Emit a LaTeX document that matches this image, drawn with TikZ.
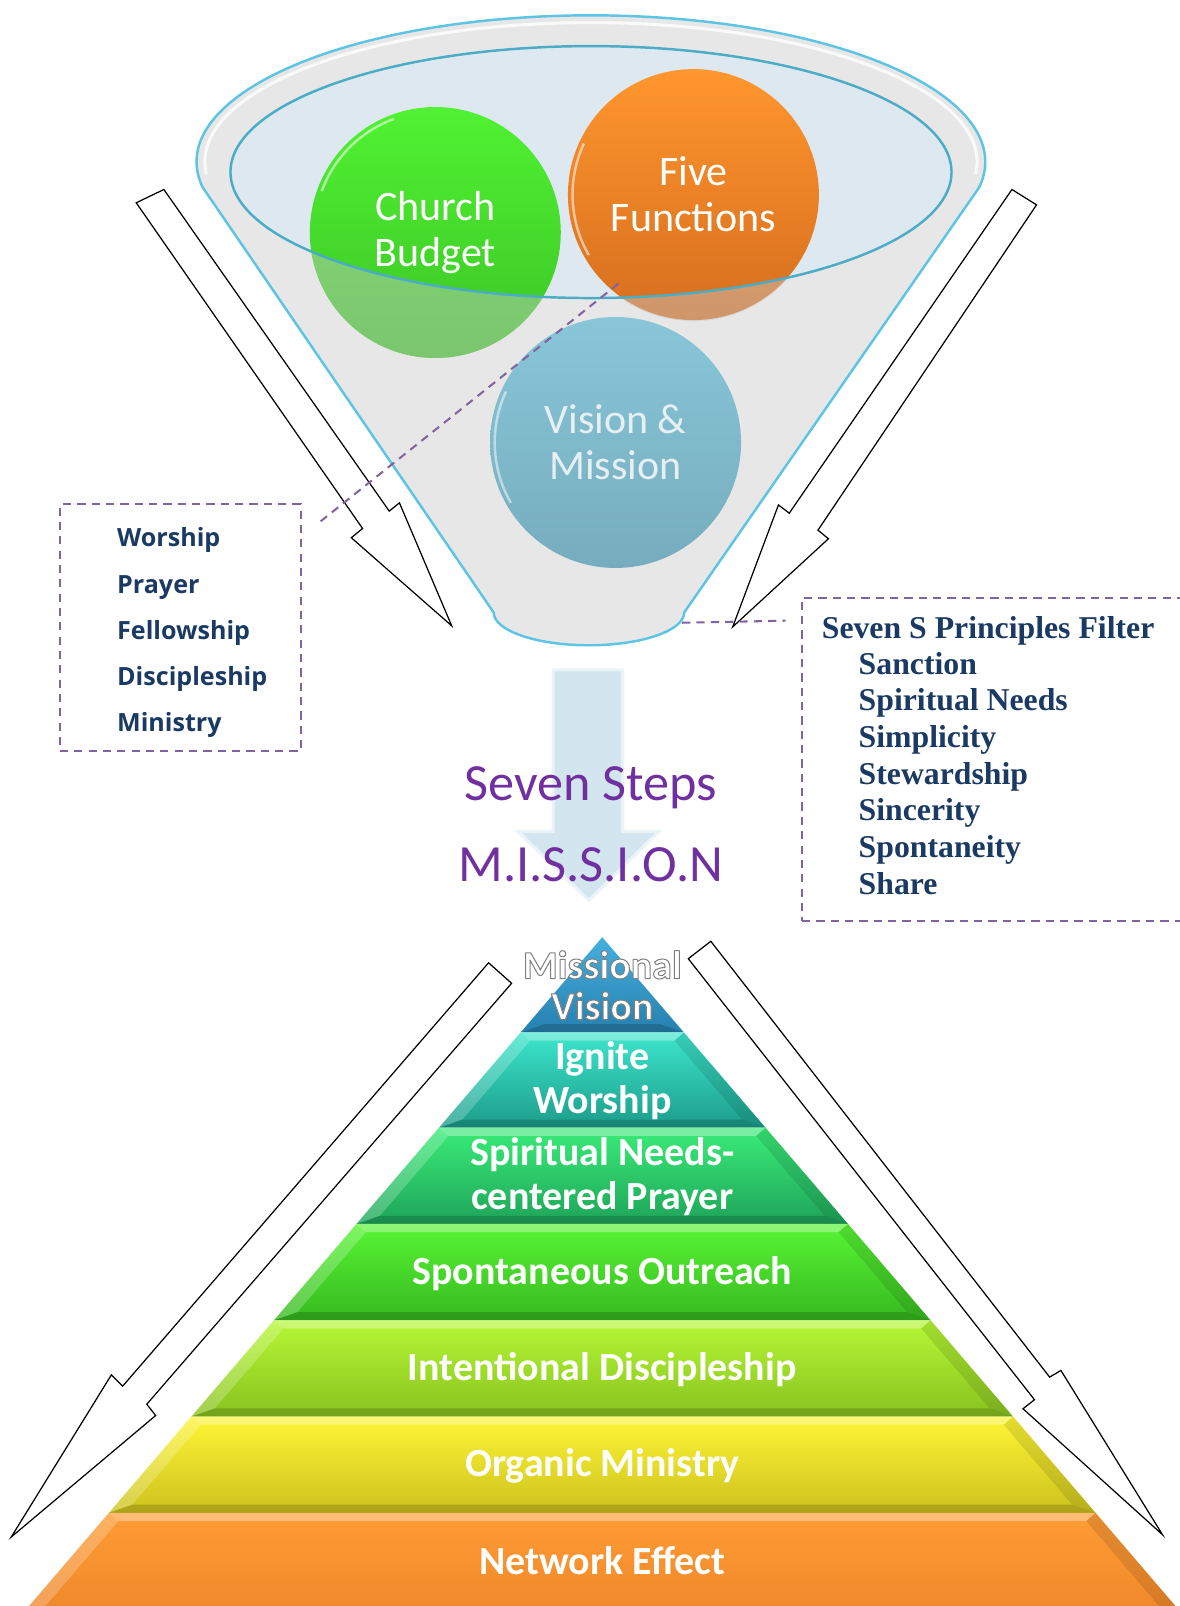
\documentclass[tikz,border=0pt]{standalone}
\usepackage{fontspec}
\setmainfont{Carlito}
\newfontfamily\osans{Open Sans}
\newfontfamily\tnr{Liberation Serif}
\usetikzlibrary{calc}
\definecolor{cyanrim}{HTML}{5EC4E4}
\definecolor{tealline}{HTML}{4BACC6}
\definecolor{funnelgray}{HTML}{E7E7E7}
\definecolor{glass}{HTML}{DDE8F0}
\definecolor{fadegray}{HTML}{C8C8C8}
\definecolor{boxpurple}{HTML}{8064A2}
\definecolor{navy}{HTML}{1B3A63}
\definecolor{stepspurple}{HTML}{7030A0}
\definecolor{gvT}{HTML}{50F232}\definecolor{gvB}{HTML}{3CC426}
\definecolor{ovT}{HTML}{FF962E}\definecolor{ovB}{HTML}{D66E1E}
\definecolor{vmT}{HTML}{88C6D8}\definecolor{vmB}{HTML}{76ADBE}
\definecolor{vmtext}{HTML}{E6EFF3}
\definecolor{arrowblue}{HTML}{D3E5EE}
\definecolor{arrowedge}{HTML}{EAF3F7}
\definecolor{mvT}{HTML}{45B0DE}\definecolor{mvB}{HTML}{2680AE}
\definecolor{iwT}{HTML}{3DE6CC}\definecolor{iwB}{HTML}{1C9C8A}
\definecolor{spT}{HTML}{3AEC78}\definecolor{spB}{HTML}{1EA459}
\definecolor{soT}{HTML}{58F535}\definecolor{soB}{HTML}{36B91F}
\definecolor{idT}{HTML}{B6F735}\definecolor{idB}{HTML}{88C21F}
\definecolor{omT}{HTML}{FFF535}\definecolor{omB}{HTML}{CCC21E}
\definecolor{neT}{HTML}{FF9C35}\definecolor{neB}{HTML}{E47A22}
% white letters with a grey outline (text render mode 2 = fill + stroke)
\newcommand\glowon{\special{pdf:literal direct 2 Tr 0.5 0.5 0.5 RG 0.5 w 1 j}}
\newcommand\glowoff{\special{pdf:literal direct 0 Tr}}
\tikzset{
  pyrtext/.style={text=white, font=\bfseries\fontsize{19.5}{21.5}\selectfont, align=center, inner sep=0},
  ltext/.style={anchor=base west, text=navy, font=\osans\bfseries\fontsize{12.25}{14}\selectfont, inner sep=0},
  rtext/.style={anchor=base west, text=navy, font=\tnr\bfseries\fontsize{15.5}{18}\selectfont, inner sep=0},
  dashline/.style={draw=boxpurple, dash pattern=on 4pt off 3pt, line width=1pt},
  hollow/.style={draw=black, fill=white, line width=0.6pt, line join=miter},
  ball/.style={circle, minimum size=122.5pt, inner sep=0, align=center, font=\fontsize{20.5}{22.5}\selectfont},
  stepstext/.style={text=stepspurple, font=\fontsize{25.5}{28}\selectfont, inner sep=0, anchor=base},
}
% pyramid layer: #1 top y, #2 bottom y, #3 top colour, #4 bottom colour
\newcommand\pyrlayer[4]{%
  \shade[top color=#3, bottom color=#4]
    ({588-0.857*(#1-915)},#1) -- ({588+0.857*(#1-915)},#1)
    -- ({588+0.857*(#2-915)},#2) -- ({588-0.857*(#2-915)},#2) -- cycle;
  \fill[white, opacity=.32]
    ({588-0.857*(#1-915)},#1) -- ({588+0.857*(#1-915)},#1)
    -- ({588+0.857*(#1+8-915)-16},{#1+8}) -- ({588-0.857*(#1+8-915)+16},{#1+8}) -- cycle;
  \fill[white, opacity=.22]
    ({588-0.857*(#1-915)},#1) -- ({588-0.857*(#1+8-915)+16},{#1+8})
    -- ({588-0.857*(#2-8-915)+16},{#2-8}) -- ({588-0.857*(#2-915)},#2) -- cycle;
  \fill[black, opacity=.10]
    ({588+0.857*(#1-915)},#1) -- ({588+0.857*(#1+8-915)-16},{#1+8})
    -- ({588+0.857*(#2-8-915)-16},{#2-8}) -- ({588+0.857*(#2-915)},#2) -- cycle;
  \fill[black, opacity=.16]
    ({588-0.857*(#2-915)},#2) -- ({588+0.857*(#2-915)},#2)
    -- ({588+0.857*(#2-8-915)-16},{#2-8}) -- ({588-0.857*(#2-8-915)+16},{#2-8}) -- cycle;
}
\begin{document}
\begin{tikzpicture}[x=0.5pt,y=-0.5pt]
\useasboundingbox (0,0) rectangle (1152,1568);
\clip (0,0) rectangle (1152,1568);

% ---------- funnel ----------
\path[fill=funnelgray, draw=cyanrim, line width=1.2pt]
  (197.8,182.8) arc[start angle=170, end angle=370, x radius=385, y radius=143]
  -- (668,598) arc[start angle=0, end angle=180, x radius=93, y radius=32] -- cycle;
\draw[white, line width=1.5pt, opacity=.8]
  (201.4,169.9) arc[start angle=175, end angle=365, x radius=377, y radius=136];
\fill[glass] (577,168) ellipse [x radius=352, y radius=123];

\node[ball, top color=gvT, bottom color=gvB, text=white] (cb) at (425,227) {Church\\Budget};
\node[ball, top color=ovT, bottom color=ovB, text=white] (ff) at (677,190) {Five\\Functions};
\begin{scope}
  \clip (425,227) circle [radius=122.5] (677,190) circle [radius=123.5];
  \fill[fadegray, opacity=.45, even odd rule] (0,0) rectangle (1152,1568)
    (577,168) ellipse [x radius=352, y radius=123];
\end{scope}
\draw[white, opacity=.55, line width=1.2pt] (425,227) ++(200:118) arc[start angle=200, end angle=250, radius=118];
\draw[white, opacity=.55, line width=1.2pt] (677,190) ++(150:118) arc[start angle=150, end angle=205, radius=118];
\draw[tealline, line width=1.2pt] (577,168) ellipse [x radius=352, y radius=123];
\node[ball, top color=vmT, bottom color=vmB, text=vmtext] (vm) at (601,432) {Vision \&\\Mission};
\draw[white, opacity=.5, line width=1.2pt] (601,432) ++(150:118) arc[start angle=150, end angle=205, radius=118];

% ---------- hollow arrows ----------
\draw[hollow] (133,198) -- (354,516) -- (343,525) -- (441,611) -- (390,491) -- (380,499) -- (160,185) -- cycle;
\draw[hollow] (988,185) -- (770.6,501) -- (760,493) -- (715.4,612) -- (808.8,526) -- (798.6,517.6) -- (1012,200) -- cycle;
\draw[hollow] (477,940) -- (119.7,1353.4) -- (108.7,1342.4) -- (11,1500.6) -- (152,1382) -- (143.3,1371) -- (499.5,960) -- cycle;
\draw[hollow] (694,919) -- (1024.8,1344.5) -- (1035.8,1338) -- (1135,1498.4) -- (998.8,1375.4) -- (1010,1366.6) -- (672,936) -- cycle;

% ---------- dashed connectors and boxes ----------
\coordinate (lc1) at (313,509);
\coordinate (lc2) at (605,276);
\draw[dashline] (lc1) -- (lc2);
\coordinate (rc1) at (666,608);
\coordinate (rc2) at (767,606);
\draw[dashline] (rc1) -- (rc2);

\node[dashline, anchor=north west, minimum width=117.5pt, minimum height=120.5pt, inner sep=0] (lbox) at (57.5,491.5) {};
\foreach \t [count=\i] in {Worship,Prayer,Fellowship,Discipleship,Ministry}
  \node[ltext] (lt\i) at (114,{489+45*\i}) {\t};

\node[dashline, anchor=north west, minimum width=200pt, minimum height=158pt, inner sep=0] (rbox) at (782,582.5) {};
\node[rtext] (rtitle) at (802,623) {Seven S Principles Filter};
\foreach \t [count=\i] in {Sanction,Spiritual Needs,Simplicity,Stewardship,Sincerity,Spontaneity,Share}
  \node[rtext] (rs\i) at (838,{622.5+35.8*\i}) {\t};

% ---------- seven steps arrow ----------
\path[fill=arrowblue, draw=arrowedge, line width=1.5pt, line join=miter]
  (540,654) -- (608,654) -- (608,812) -- (643,812) -- (575,879) -- (506,812) -- (540,812) -- cycle;
\node[stepstext] (steps) at (577,782) {Seven Steps};
\node[stepstext] (mission) at (577,861) {M.I.S.S.I.O.N};

% ---------- pyramid ----------
\shade[top color=mvT, bottom color=mvB] (588,915) -- ({588+0.857*93},1008) -- ({588-0.857*93},1008) -- cycle;
\fill[black, opacity=.16] ({588-0.857*93},1008) -- ({588+0.857*93},1008) -- ({588+0.857*85-16},1000) -- ({588-0.857*85+16},1000) -- cycle;
\pyrlayer{1008}{1101}{iwT}{iwB}
\pyrlayer{1101}{1195}{spT}{spB}
\pyrlayer{1195}{1289}{soT}{soB}
\pyrlayer{1289}{1383}{idT}{idB}
\pyrlayer{1383}{1477}{omT}{omB}
\pyrlayer{1477}{1640}{neT}{neB}

\node[pyrtext, font=\bfseries\fontsize{19.5}{20}\selectfont] (mv) at (588,962) {\glowon Missional\\Vision\glowoff};
\node[pyrtext] (iw) at (588,1055.5) {Ignite\\Worship};
\node[pyrtext] (sn) at (588,1149) {Spiritual Needs-\\centered Prayer};
\node[pyrtext] (so) at (588,1243) {Spontaneous Outreach};
\node[pyrtext] (id) at (588,1337) {Intentional Discipleship};
\node[pyrtext] (om) at (588,1431) {Organic Ministry};
\node[pyrtext] (ne) at (588,1524) {Network Effect};
\end{tikzpicture}
\end{document}
